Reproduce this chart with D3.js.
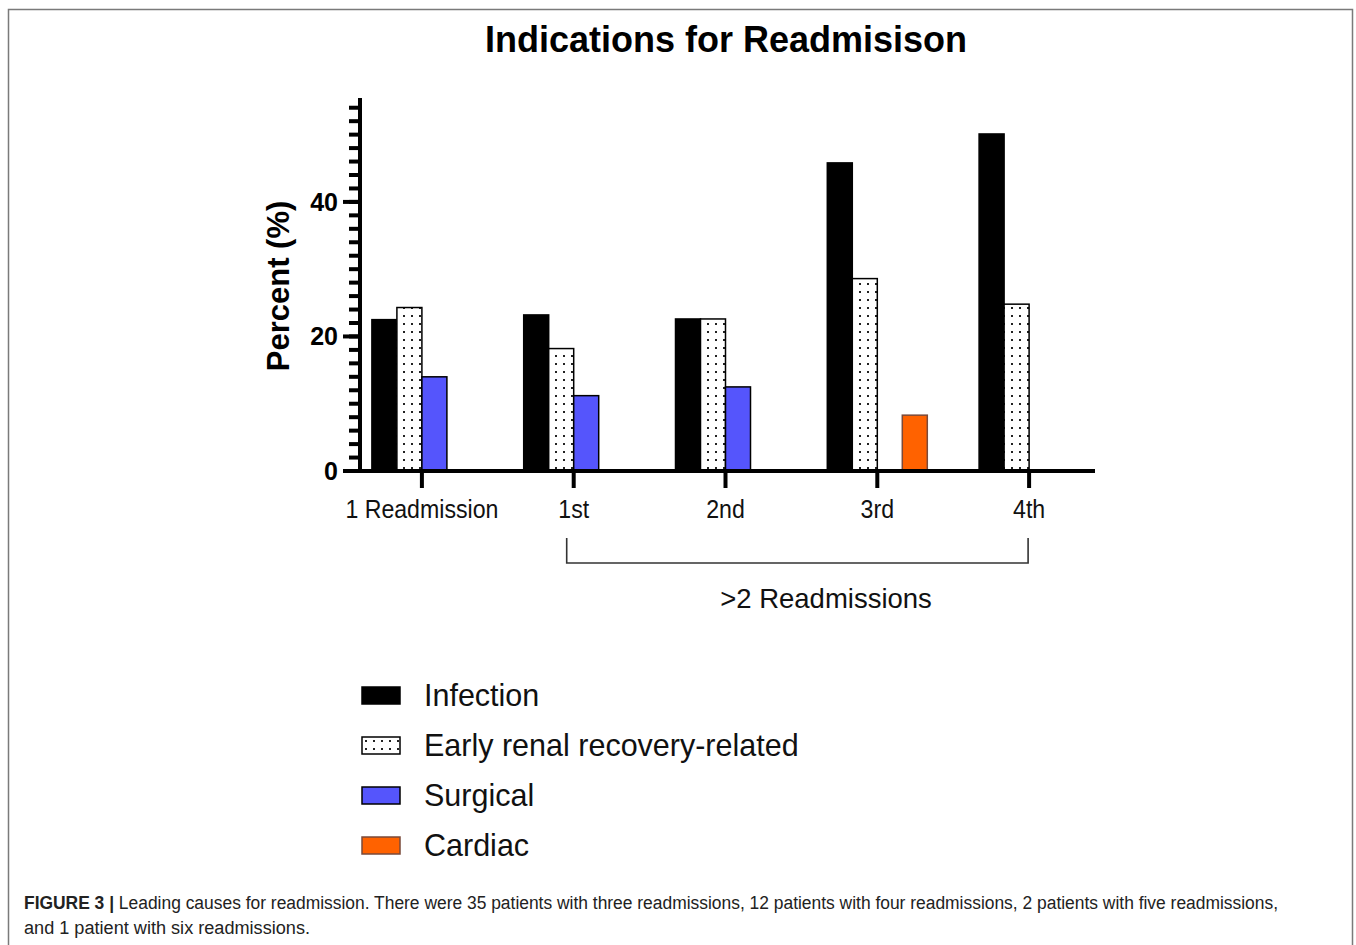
<!doctype html>
<html>
<head>
<script src="https://cdnjs.cloudflare.com/ajax/libs/d3/7.8.5/d3.min.js"></script>
<style>
  body { margin: 0; background: #fff; }
  svg { display: block; }
</style>
</head>
<body>
<svg id="chart" width="1356" height="945"></svg>
<script>
// data
var groups = ["1 Readmission", "1st", "2nd", "3rd", "4th"];
var series = ["Infection", "Early renal recovery-related", "Surgical", "Cardiac"];
var infection = [22.5, 23.2, 22.6, 45.8, 50.1];
var earlyRenal = [24.3, 18.2, 22.6, 28.6, 24.8];
var surgical = [14.0, 11.2, 12.5, 0, 0];
var cardiac = [0, 0, 0, 8.3, 0];
var yTicks = [0, 20, 40];

var values = [infection, earlyRenal, surgical, cardiac];
var fills = ["#000000", "url(#dots)", "#5555fc", "#ff6200"];

var svg = d3.select("#chart");

// dotted pattern
var defs = svg.append("defs");
var pat = defs.append("pattern")
    .attr("id", "dots")
    .attr("patternUnits", "userSpaceOnUse")
    .attr("width", 8).attr("height", 8);
pat.append("rect").attr("width", 8).attr("height", 8).attr("fill", "#fff");
pat.append("rect").attr("x", 3).attr("y", 3).attr("width", 2).attr("height", 2).attr("fill", "#222");

// frame
svg.append("path")
    .attr("d", "M8.5,960 V9.5 H1352.5 V960")
    .attr("fill", "none")
    .attr("stroke", "#7a7a7a")
    .attr("stroke-width", 1.5);

// title
svg.append("text")
    .attr("x", 726).attr("y", 52)
    .attr("text-anchor", "middle")
    .style("font-family", "Liberation Sans, Arial, sans-serif")
    .style("font-weight", "bold")
    .style("font-size", "36px")
    .text("Indications for Readmisison");

var y = d3.scaleLinear().domain([0, 55]).range([471, 101]);
var x = d3.scaleBand().domain(groups).range([346, 1105]);
var xs = d3.scaleBand().domain(series).range([-50, 50]);

// bars
var rows = [];
groups.forEach(function (g, i) {
    series.forEach(function (s, j) {
        if (values[j][i] > 0) rows.push({g: g, s: s, v: values[j][i], j: j});
    });
});

svg.append("g").selectAll("rect")
    .data(rows)
    .enter()
    .append("rect")
    .attr("x", d => x(d.g) + x.bandwidth() / 2 + xs(d.s))
    .attr("y", d => y(d.v))
    .attr("width", xs.bandwidth())
    .attr("height", d => y(0) - y(d.v))
    .attr("fill", d => fills[d.j])
    .attr("stroke", d => d.j == 3 ? "#7a4a3a" : "#000")
    .attr("stroke-width", 1.5);

// y axis
var minor = d3.range(0, 56, 2);
var yAxis = svg.append("g").attr("transform", "translate(360,0)");
yAxis.selectAll("line.minor")
    .data(minor)
    .enter()
    .append("line")
    .attr("class", "minor")
    .attr("x1", -11).attr("x2", 0)
    .attr("y1", d => y(d)).attr("y2", d => y(d))
    .attr("stroke", "#000").attr("stroke-width", 4);
yAxis.selectAll("line.major")
    .data(yTicks)
    .enter()
    .append("line")
    .attr("class", "major")
    .attr("x1", -17).attr("x2", 0)
    .attr("y1", d => y(d)).attr("y2", d => y(d))
    .attr("stroke", "#000").attr("stroke-width", 4);
yAxis.selectAll("text")
    .data(yTicks)
    .enter()
    .append("text")
    .attr("x", -22)
    .attr("y", d => y(d) + 9)
    .attr("text-anchor", "end")
    .style("font-family", "Liberation Sans, Arial, sans-serif")
    .style("font-weight", "bold")
    .style("font-size", "25px")
    .text(d => d);
yAxis.append("line")
    .attr("x1", 0).attr("x2", 0)
    .attr("y1", 98).attr("y2", y(0) + 2)
    .attr("stroke", "#000").attr("stroke-width", 4);

svg.append("text")
    .attr("transform", "translate(289,286) rotate(-90)")
    .attr("text-anchor", "middle")
    .style("font-family", "Liberation Sans, Arial, sans-serif")
    .style("font-weight", "bold")
    .style("font-size", "31px")
    .text("Percent (%)");

// x axis
var xAxis = svg.append("g");
xAxis.append("line")
    .attr("x1", 343).attr("x2", 1095)
    .attr("y1", y(0)).attr("y2", y(0))
    .attr("stroke", "#000").attr("stroke-width", 4);
xAxis.selectAll("line.tick")
    .data(groups)
    .enter()
    .append("line")
    .attr("class", "tick")
    .attr("x1", d => x(d) + x.bandwidth() / 2)
    .attr("x2", d => x(d) + x.bandwidth() / 2)
    .attr("y1", y(0)).attr("y2", y(0) + 17)
    .attr("stroke", "#000").attr("stroke-width", 4);
// labels are a condensed face in the original, squeeze horizontally
xAxis.selectAll("text")
    .data(groups)
    .enter()
    .append("text")
    .attr("transform", d => "translate(" + (x(d) + x.bandwidth() / 2) + ",518) scale(0.89,1)")
    .attr("text-anchor", "middle")
    .style("font-family", "Liberation Sans, Arial, sans-serif")
    .style("font-size", "26px")
    .style("fill", "#111")
    .text(d => d);

// bracket for >2 readmissions
var bx1 = x("1st") + x.bandwidth() / 2 - 7;
var bx2 = x("4th") + x.bandwidth() / 2 - 1;
svg.append("path")
    .attr("d", "M" + bx1 + ",538 V563 H" + bx2 + " V538")
    .attr("fill", "none")
    .attr("stroke", "#333")
    .attr("stroke-width", 1.6);
svg.append("text")
    .attr("x", 826).attr("y", 608)
    .attr("text-anchor", "middle")
    .style("font-family", "Liberation Sans, Arial, sans-serif")
    .style("font-size", "27.5px")
    .style("fill", "#111")
    .text(">2 Readmissions");

// legend
var legend = svg.append("g").selectAll("g")
    .data(series)
    .enter()
    .append("g")
    .attr("transform", (d, i) => "translate(362," + (687 + i * 50) + ")");
legend.append("rect")
    .attr("width", 38).attr("height", 17)
    .attr("fill", (d, i) => fills[i])
    .attr("stroke", (d, i) => i == 3 ? "#7a4a3a" : "#000")
    .attr("stroke-width", 1.5);
legend.append("text")
    .attr("x", 62).attr("y", 19)
    .style("font-family", "Liberation Sans, Arial, sans-serif")
    .style("font-size", "30.5px")
    .style("fill", "#111")
    .text(d => d);

// caption
var cap1 = svg.append("text")
    .attr("x", 24).attr("y", 909)
    .attr("textLength", 1254)
    .attr("lengthAdjust", "spacingAndGlyphs")
    .style("font-family", "Liberation Sans, Arial, sans-serif")
    .style("font-size", "18px")
    .style("fill", "#222");
cap1.append("tspan").style("font-weight", "bold").text("FIGURE 3 | ");
cap1.append("tspan").text("Leading causes for readmission. There were 35 patients with three readmissions, 12 patients with four readmissions, 2 patients with five readmissions,");
svg.append("text")
    .attr("x", 24).attr("y", 934)
    .attr("textLength", 286)
    .attr("lengthAdjust", "spacingAndGlyphs")
    .style("font-family", "Liberation Sans, Arial, sans-serif")
    .style("font-size", "18px")
    .style("fill", "#222")
    .text("and 1 patient with six readmissions.");
</script>
</body>
</html>
